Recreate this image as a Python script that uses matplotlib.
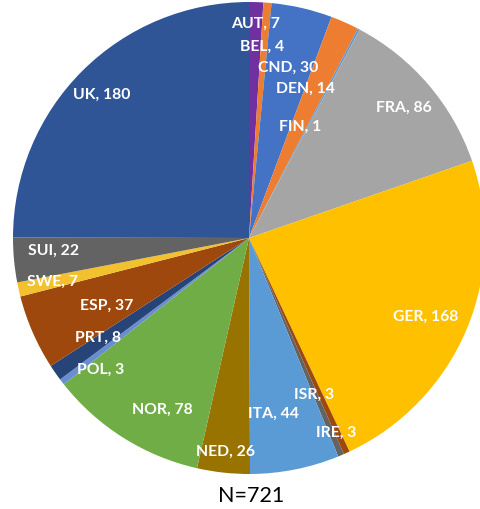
import matplotlib.pyplot as plt
import numpy as np

countries = ["AUT", "BEL", "CND", "DEN", "FIN", "FRA", "GER", "IRE", "ISR",
             "ITA", "NED", "NOR", "POL", "PRT", "ESP", "SWE", "SUI", "UK"]
counts = [7, 4, 30, 14, 1, 86, 168, 3, 3, 44, 26, 78, 3, 8, 37, 7, 22, 180]

colors = ["#7030A0", "#ED7D31", "#4472C4", "#ED7D31", "#5B9BD5", "#A5A5A5",
          "#FFC000", "#9E480E", "#636363", "#5B9BD5", "#997300", "#70AD47",
          "#698ED0", "#264478", "#9E480E", "#F4C12E", "#636363", "#2F5597"]

# label placement: fraction of radius and small angle nudge (degrees)
label_r = [0.91, 0.81, 0.74, 0.675, 0.52, 0.86, 0.82, 0.905, 0.72,
           0.753, 0.912, 0.815, 0.84, 0.767, 0.667, 0.852, 0.828, 0.869]
label_da = [0, 0.6, 0, 3.4, 3, -0.5, -1.3, -0.5, -0.5,
            -3.4, 0, 5.6, 4.1, -1.3, 2, 0, -1.6, 0.9]

fig = plt.figure(figsize=(4.8, 5.09), dpi=100)
ax = fig.add_axes([13 / 480, 35 / 509, 472 / 480, 472 / 509])

wedges, _ = ax.pie(counts, colors=colors, startangle=90, counterclock=False,
                   wedgeprops=dict(linewidth=0))

for w, name, n, r, da in zip(wedges, countries, counts, label_r, label_da):
    ang = np.deg2rad((w.theta1 + w.theta2) / 2 + da)
    ax.text(r * np.cos(ang), r * np.sin(ang), f"{name}, {n}", color="white",
            fontweight="bold", fontsize=11.3, family="Lato",
            ha="center", va="center")

ax.set_xlim(-1, 1)
ax.set_ylim(-1, 1)
ax.set_aspect("equal")
ax.axis("off")
fig.text(251 / 480, 1 - 496 / 509, "N=721", ha="center", va="center",
         fontsize=15.5, family="Lato")

plt.savefig("out.png")
plt.close()
